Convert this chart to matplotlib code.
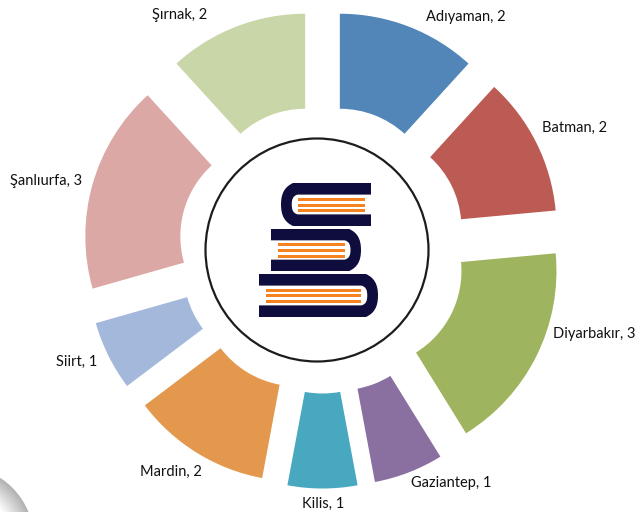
import matplotlib.pyplot as plt
from matplotlib.patches import Circle, Rectangle, PathPatch
from matplotlib.path import Path

plt.rcParams['font.family'] = ['Lato', 'DejaVu Sans']

cities = ['Adıyaman', 'Batman', 'Diyarbakır', 'Gaziantep', 'Kilis', 'Mardin', 'Siirt', 'Şanlıurfa', 'Şırnak']
counts = [2, 2, 3, 1, 1, 2, 1, 3, 2]
colors = ['#5285b8', '#bc5b54', '#9fb45f', '#8a70a0', '#48a8bf', '#e3984d', '#a3b8da', '#dba8a5', '#c8d6a8']
label_x = [466, 575, 594, 451, 323, 171, 77, 46, 180]
label_y = [17, 128, 334, 483, 504, 472, 362, 181, 15]

NAVY = '#0f0d3d'
ORANGE = '#f5831f'
H = 512


def py(y):
    # picture y goes down, axes y goes up
    return H - y


def book(ax, x0, x1, y0, y1, spine_left, lines, lx0, lx1):
    # rounded spine on one side, open pages on the other
    if spine_left:
        sx, fx = x0, x1
        d = 1
    else:
        sx, fx = x1, x0
        d = -1
    bend = (y1 - y0) * 0.28
    verts = [(fx, y0), (sx + d * bend, y0),
             (sx + d * bend * 0.35, y0 + bend * 0.3), (sx, y0 + bend * 0.8), (sx, (y0 + y1) / 2),
             (sx, y1 - bend * 0.8), (sx + d * bend * 0.35, y1 - bend * 0.3), (sx + d * bend, y1),
             (fx, y1), (fx, y0)]
    codes = [Path.MOVETO, Path.LINETO,
             Path.CURVE4, Path.CURVE4, Path.CURVE4,
             Path.CURVE4, Path.CURVE4, Path.CURVE4,
             Path.LINETO, Path.CLOSEPOLY]
    ax.add_patch(PathPatch(Path([(v[0], py(v[1])) for v in verts], codes), fc=NAVY, ec='none', zorder=4))
    t = (y1 - y0) * 0.27
    ix = sx + d * (y1 - y0) * 0.25
    verts2 = [(fx + d * 1, y0 + t), (ix + d * 6, y0 + t),
              (ix + d * 1, y0 + t + 1), (ix, y0 + t + 5), (ix, (y0 + y1) / 2),
              (ix, y1 - t - 5), (ix + d * 1, y1 - t - 1), (ix + d * 6, y1 - t),
              (fx + d * 1, y1 - t), (fx + d * 1, y0 + t)]
    ax.add_patch(PathPatch(Path([(v[0], py(v[1])) for v in verts2], codes), fc='white', ec='none', zorder=5))
    for ly in lines:
        ax.add_patch(Rectangle((lx0, py(ly + 1.5)), lx1 - lx0, 3, fc=ORANGE, ec='none', zorder=6))


fig = plt.figure(figsize=(6.35, 5.12), dpi=100)
ax = fig.add_axes([0, 0, 1, 1])

# grey shaded disc in the lower left corner
for i in range(24):
    g = 0.70 + 0.30 * i / 23
    ax.add_patch(Circle((-40, py(540)), 74 - i, fc=(g, g, g), ec='none', zorder=1))

ax.pie(counts, colors=colors, startangle=90, counterclock=False,
       explode=[48] * len(counts), radius=191, center=(322.5, py(249.5)),
       wedgeprops={'width': 95, 'linewidth': 0, 'zorder': 2}, frame=True)

ax.add_patch(Circle((317, py(250)), 111.5, fc='white', ec='#1c1c1c', lw=1.6, zorder=3))

book(ax, 281, 371, 183, 226, True, [199, 205.5, 210.5], 298, 365)
book(ax, 271, 361, 229, 271, False, [244.5, 250.5, 256], 278, 345)
book(ax, 259, 378, 274, 317, False, [290.5, 295.5, 301.5], 266, 361)

for c, n, x, y in zip(cities, counts, label_x, label_y):
    ax.text(x, py(y), f'{c}, {n}', ha='center', va='center', fontsize=10.5, color='#111111', zorder=7)

ax.set_xlim(0, 635)
ax.set_ylim(0, H)
ax.set_aspect('auto')
ax.axis('off')

fig.savefig('out.png', dpi=100)
